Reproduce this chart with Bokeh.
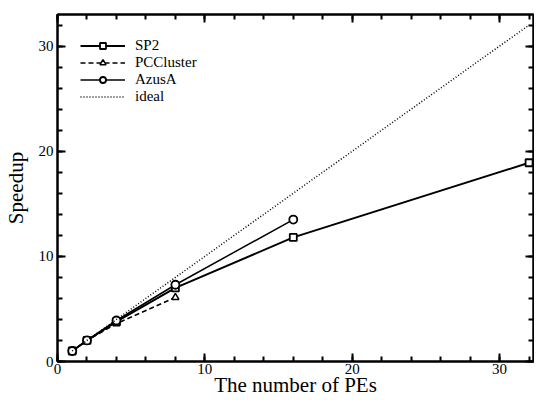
from bokeh.plotting import figure
from bokeh.models import Range1d, FixedTicker, LinearAxis, Legend, LegendItem, CustomJSTickFormatter
from bokeh.embed import file_html
from bokeh.resources import INLINE

# Data
pes_sp2 = [1, 2, 4, 8, 16, 32]
speedup_sp2 = [1.0, 2.0, 3.8, 7.0, 11.8, 18.9]
pes_pc = [1, 2, 4, 8]
speedup_pc = [1.0, 2.0, 3.6, 6.1]
pes_azusa = [1, 2, 4, 8, 16]
speedup_azusa = [1.0, 2.0, 3.9, 7.3, 13.5]
pes_ideal = [1, 2, 4, 8, 16, 32]
speedup_ideal = [1, 2, 4, 8, 16, 32]
major_ticks = [0, 10, 20, 30]
minor_ticks = list(range(0, 34, 2))

FONT = "Liberation Serif"

p = figure(frame_width=476, frame_height=347, output_backend="svg", toolbar_location=None,
           x_range=Range1d(0, 32.3), y_range=Range1d(0, 33),
           min_border_left=57, min_border_right=1, min_border_top=14, min_border_bottom=0)
p.grid.visible = False
p.outline_line_color = "black"
p.outline_line_width = 2
p.background_fill_color = "white"
p.border_fill_color = "white"

def style_axis(ax, labels=True):
    ax.ticker = FixedTicker(ticks=major_ticks, minor_ticks=minor_ticks)
    ax.axis_line_width = 2
    ax.axis_line_color = "black"
    ax.major_tick_in = 8
    ax.major_tick_out = 0
    ax.minor_tick_in = 5
    ax.minor_tick_out = 0
    ax.major_tick_line_width = 2
    ax.minor_tick_line_width = 2
    ax.major_label_text_font = FONT
    ax.major_label_text_color = "black"
    if labels:
        ax.major_label_text_font_size = "15px"
        ax.major_label_standoff = 2
    else:
        ax.formatter = CustomJSTickFormatter(code="return ''")
        ax.major_label_standoff = 0

for ax in p.xaxis + p.yaxis:
    style_axis(ax)

p.yaxis.major_label_standoff = 4
p.xaxis.axis_label = "The number of PEs"
p.yaxis.axis_label = "Speedup"
for ax in p.xaxis + p.yaxis:
    ax.axis_label_text_font = FONT
    ax.axis_label_text_font_size = "21px"
    ax.axis_label_text_font_style = "normal"
    ax.axis_label_text_color = "black"
p.xaxis.axis_label_standoff = -4
p.yaxis.axis_label_standoff = 8

top = LinearAxis()
right = LinearAxis()
style_axis(top, labels=False)
style_axis(right, labels=False)
p.add_layout(top, "above")
p.add_layout(right, "right")

# Lines
l_sp2 = p.line(pes_sp2, speedup_sp2, line_color="black", line_width=2)
m_sp2 = p.scatter(pes_sp2, speedup_sp2, marker="square", size=7, fill_color="white",
                  line_color="black", line_width=1.8)
l_pc = p.line(pes_pc, speedup_pc, line_color="black", line_width=1.5, line_dash="5 3")
m_pc = p.scatter(pes_pc, speedup_pc, marker="triangle", size=7, fill_color="white",
                 line_color="black", line_width=1.5)
l_az = p.line(pes_azusa, speedup_azusa, line_color="black", line_width=1.5)
m_az = p.scatter(pes_azusa, speedup_azusa, marker="circle", size=8, fill_color="white",
                 line_color="black", line_width=1.8)
l_id = p.line(pes_ideal, speedup_ideal, line_color="black", line_width=1.5, line_dash="1 2")

legend = Legend(items=[
    LegendItem(label="SP2", renderers=[l_sp2, m_sp2]),
    LegendItem(label="PCCluster", renderers=[l_pc, m_pc]),
    LegendItem(label="AzusA", renderers=[l_az, m_az]),
    LegendItem(label="ideal", renderers=[l_id]),
], location="top_left")
legend.border_line_color = None
legend.background_fill_alpha = 0
legend.label_text_font = FONT
legend.label_text_font_size = "15px"
legend.label_text_color = "black"
legend.glyph_width = 45
legend.glyph_height = 15
legend.label_height = 15
legend.label_standoff = 10
legend.spacing = 0
legend.margin = 23
legend.padding = 3
p.add_layout(legend)

open("out.html", "w").write(file_html(p, INLINE))
